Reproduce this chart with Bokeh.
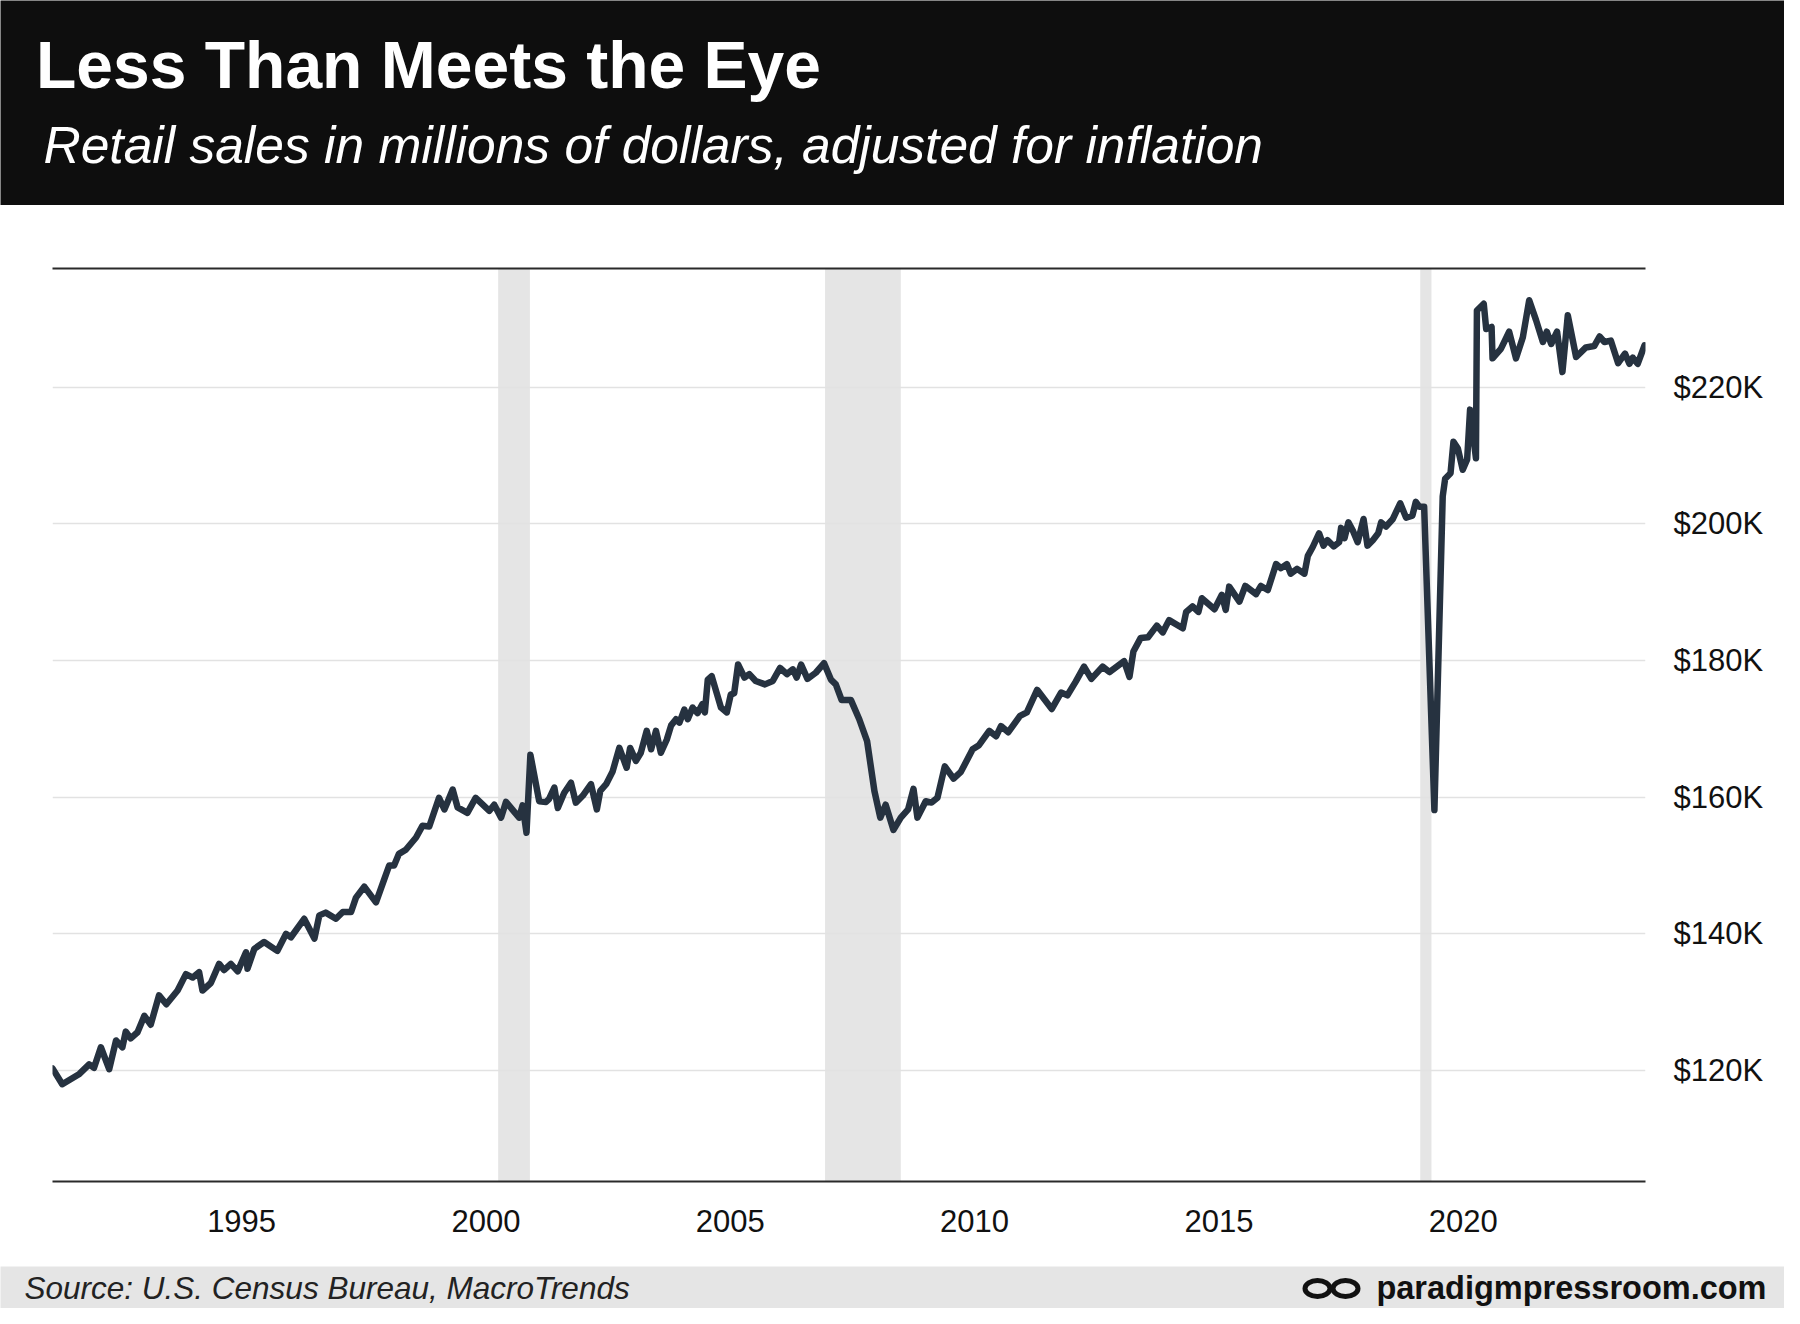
from bokeh.plotting import figure
from bokeh.layouts import column
from bokeh.models import (Range1d, FixedTicker, PrintfTickFormatter, LinearAxis,
                          BoxAnnotation)
from bokeh.embed import file_html
from bokeh.resources import INLINE
from bokeh.core.properties import value

# ---------------- data ----------------
TITLE = "Less Than Meets the Eye"
SUBTITLE = "Retail sales in millions of dollars, adjusted for inflation"
SOURCE = "Source: U.S. Census Bureau, MacroTrends"
BRAND = "paradigmpressroom.com"

# time position (decimal year as drawn) and retail sales in $ thousands of millions
YEARS = [
    1991.13, 1991.33, 1991.68, 1991.88, 1991.98, 1992.12, 1992.29, 1992.43, 1992.56, 1992.63,
    1992.73, 1992.87, 1993.01, 1993.14, 1993.31, 1993.46, 1993.69, 1993.86, 1994.00, 1994.13,
    1994.20, 1994.37, 1994.54, 1994.64, 1994.78, 1994.92, 1995.09, 1995.12, 1995.26, 1995.46,
    1995.73, 1995.91, 1996.01, 1996.28, 1996.49, 1996.59, 1996.72, 1996.93, 1997.07, 1997.24,
    1997.34, 1997.51, 1997.75, 1997.92, 1998.02, 1998.12, 1998.22, 1998.36, 1998.57, 1998.70,
    1998.84, 1999.04, 1999.15, 1999.32, 1999.42, 1999.62, 1999.79, 2000.07, 2000.17, 2000.31,
    2000.41, 2000.68, 2000.75, 2000.83, 2000.91, 2001.09, 2001.23, 2001.29, 2001.40, 2001.47,
    2001.60, 2001.74, 2001.84, 2001.98, 2002.15, 2002.27, 2002.34, 2002.46, 2002.59, 2002.73,
    2002.88, 2002.95, 2003.07, 2003.17, 2003.29, 2003.38, 2003.48, 2003.58, 2003.70, 2003.79,
    2003.89, 2003.96, 2004.06, 2004.13, 2004.23, 2004.33, 2004.43, 2004.48, 2004.54, 2004.62,
    2004.81, 2004.93, 2005.01, 2005.08, 2005.16, 2005.29, 2005.39, 2005.52, 2005.71, 2005.87,
    2006.02, 2006.16, 2006.28, 2006.36, 2006.45, 2006.58, 2006.75, 2006.92, 2007.06, 2007.16,
    2007.28, 2007.47, 2007.64, 2007.80, 2007.95, 2008.07, 2008.18, 2008.34, 2008.49, 2008.64,
    2008.75, 2008.83, 2009.00, 2009.12, 2009.24, 2009.39, 2009.57, 2009.72, 2009.96, 2010.09,
    2010.30, 2010.44, 2010.54, 2010.69, 2010.93, 2011.07, 2011.28, 2011.58, 2011.77, 2011.90,
    2012.07, 2012.24, 2012.39, 2012.62, 2012.76, 2013.06, 2013.17, 2013.25, 2013.40, 2013.55,
    2013.73, 2013.85, 2013.98, 2014.26, 2014.33, 2014.46, 2014.58, 2014.65, 2014.91, 2015.06,
    2015.14, 2015.21, 2015.42, 2015.54, 2015.76, 2015.86, 2016.00, 2016.17, 2016.27, 2016.39,
    2016.47, 2016.60, 2016.75, 2016.82, 2016.92, 2017.05, 2017.14, 2017.22, 2017.35, 2017.46,
    2017.50, 2017.57, 2017.65, 2017.74, 2017.84, 2017.96, 2018.04, 2018.15, 2018.26, 2018.32,
    2018.42, 2018.56, 2018.71, 2018.83, 2018.96, 2019.03, 2019.10, 2019.20, 2019.41, 2019.58,
    2019.63, 2019.74, 2019.80, 2019.89, 2019.99, 2020.08, 2020.14, 2020.26, 2020.28, 2020.42,
    2020.47, 2020.58, 2020.60, 2020.77, 2020.94, 2021.08, 2021.22, 2021.35, 2021.49, 2021.63,
    2021.71, 2021.80, 2021.92, 2022.03, 2022.14, 2022.31, 2022.51, 2022.68, 2022.79, 2022.89,
    2023.02, 2023.17, 2023.31, 2023.40, 2023.47, 2023.57, 2023.71,
]
SALES_K = [
    120.3, 118.0, 119.5, 120.9, 120.4, 123.4, 120.2, 124.4, 123.4, 125.7,
    124.7, 125.6, 128.0, 126.7, 131.0, 129.7, 131.7, 134.1, 133.6, 134.4,
    131.7, 132.8, 135.6, 134.7, 135.6, 134.5, 137.3, 134.9, 137.8, 138.8,
    137.5, 140.0, 139.5, 142.2, 139.3, 142.7, 143.1, 142.2, 143.2, 143.2,
    145.3, 146.9, 144.6, 148.0, 150.0, 150.0, 151.7, 152.3, 154.1, 155.8,
    155.7, 159.9, 158.2, 161.1, 158.5, 157.7, 159.9, 158.0, 158.9, 157.0,
    159.3, 157.0, 158.8, 154.8, 166.2, 159.4, 159.3, 159.7, 161.4, 158.4,
    160.6, 162.1, 159.2, 160.2, 161.9, 158.2, 160.9, 161.9, 163.7, 167.2,
    164.3, 167.2, 165.3, 166.5, 169.7, 167.0, 169.7, 166.5, 168.4, 170.5,
    171.4, 170.9, 172.8, 171.4, 173.1, 172.3, 173.6, 172.4, 177.2, 177.7,
    173.1, 172.4, 175.0, 175.2, 179.4, 177.5, 178.0, 177.0, 176.5, 177.0,
    178.9, 178.0, 178.7, 177.5, 179.4, 177.3, 178.2, 179.6, 177.2, 176.5,
    174.2, 174.2, 171.4, 168.2, 160.9, 157.0, 158.9, 155.2, 157.0, 158.2,
    161.2, 157.0, 159.4, 159.2, 159.9, 164.5, 162.7, 163.7, 167.0, 167.6,
    169.7, 168.9, 170.4, 169.5, 171.9, 172.4, 175.7, 172.9, 175.3, 174.9,
    176.9, 179.1, 177.3, 179.1, 178.3, 179.9, 177.6, 181.3, 183.3, 183.4,
    185.1, 184.1, 185.9, 184.7, 187.1, 187.9, 187.1, 189.1, 187.5, 189.6,
    187.4, 190.8, 188.6, 190.9, 189.7, 190.9, 190.3, 194.1, 193.5, 194.1,
    192.7, 193.4, 192.7, 195.3, 196.6, 198.6, 196.8, 197.6, 196.7, 197.3,
    199.4, 197.9, 200.2, 199.0, 197.3, 200.7, 196.8, 197.6, 198.6, 200.2,
    199.6, 200.7, 203.0, 200.9, 201.2, 203.2, 202.5, 202.5, 158.1, 204.0,
    206.6, 207.4, 212.0, 211.0, 207.9, 209.4, 216.7, 209.6, 231.2, 232.2,
    228.5, 228.8, 224.2, 225.6, 228.1, 224.2, 227.3, 232.7, 229.8, 226.6,
    228.1, 226.3, 228.1, 222.2, 230.5, 224.4, 225.8, 226.0, 227.4, 226.6,
    226.8, 223.5, 224.9, 223.4, 224.3, 223.4, 226.1,
]

# recession shading (as drawn)
REC_START = [2000.25, 2006.94, 2019.12]
REC_END = [2000.90, 2008.49, 2019.35]

X_TICKS = [1995, 2000, 2005, 2010, 2015, 2020]
Y_TICKS = [120, 140, 160, 180, 200, 220]

# ---------------- styling ----------------
W = 1784
TOTAL_H = 1308
HEADER_H = 205
FOOTER_H = 42
CHART_H = TOTAL_H - HEADER_H - FOOTER_H
FONT = "Liberation Sans"
LINE_COLOR = "#263240"
INK = "#111111"
HEADER_BG = "#0e0e0e"
FOOTER_BG = "#e5e5e5"


def blank(height, bg):
    f = figure(width=W, height=height, x_range=Range1d(0, W), y_range=Range1d(0, height),
               output_backend="svg", toolbar_location=None,
               x_axis_type=None, y_axis_type=None, min_border=0)
    f.frame_align = False
    f.background_fill_color = bg
    f.border_fill_color = bg
    f.outline_line_color = None
    return f


# ---------------- header ----------------
header = blank(HEADER_H, HEADER_BG)
header.text(x=[35.5], y=[141], text=[TITLE], text_font=value(FONT),
            text_font_style="bold", text_font_size="66px", text_color="white",
            text_baseline="alphabetic", text_align="left")
header.text(x=[43], y=[61], text=[SUBTITLE], text_font=value(FONT),
            text_font_style="italic", text_font_size="51.5px", text_color="white",
            text_baseline="alphabetic", text_align="left")

# ---------------- chart ----------------
p = figure(width=W, height=CHART_H,
           x_range=Range1d(1991.13, 2023.73), y_range=Range1d(103.76, 237.35),
           output_backend="svg", toolbar_location=None, y_axis_location="right",
           min_border_left=52, min_border_right=139, min_border_top=63,
           min_border_bottom=CHART_H - (1181 - HEADER_H))
p.frame_align = False
p.outline_line_color = None
p.background_fill_color = "white"
p.border_fill_color = "white"
p.xgrid.visible = False
p.ygrid.ticker = FixedTicker(ticks=Y_TICKS)
p.ygrid.grid_line_color = "#e2e2e2"
p.ygrid.grid_line_width = 1.5

for s, e in zip(REC_START, REC_END):
    p.add_layout(BoxAnnotation(left=s, right=e, fill_color="#e5e5e5",
                               fill_alpha=1.0, line_color=None, level="image"))

p.line(YEARS, SALES_K, line_width=6.5, line_color=LINE_COLOR,
       line_join="round", line_cap="round")

ya = p.yaxis[0]
ya.ticker = FixedTicker(ticks=Y_TICKS)
ya.formatter = PrintfTickFormatter(format="$%dK")
ya.axis_line_color = None
ya.major_tick_line_color = None
ya.minor_tick_line_color = None
ya.major_tick_out = 0
ya.major_tick_in = 0
ya.major_label_standoff = 28
ya.major_label_text_font = FONT
ya.major_label_text_font_size = "31px"
ya.major_label_text_color = INK

xa = p.xaxis[0]
xa.ticker = FixedTicker(ticks=X_TICKS)
xa.formatter = PrintfTickFormatter(format="%d")
xa.axis_line_color = "#2a2a2a"
xa.axis_line_width = 2
xa.major_tick_line_color = None
xa.minor_tick_line_color = None
xa.major_label_standoff = 22
xa.major_label_text_font = FONT
xa.major_label_text_font_size = "31px"
xa.major_label_text_color = INK

top = LinearAxis(ticker=FixedTicker(ticks=[]), axis_line_color="#2a2a2a",
                 axis_line_width=2, major_tick_line_color=None,
                 minor_tick_line_color=None, major_label_text_font_size="0px")
p.add_layout(top, "above")

# ---------------- footer ----------------
footer = blank(FOOTER_H, FOOTER_BG)
footer.text(x=[24], y=[20.5], text=[SOURCE], text_font=value(FONT),
            text_font_style="italic", text_font_size="31.5px", text_color="#222222",
            text_baseline="alphabetic", text_align="left")
footer.text(x=[1766], y=[20.5], text=[BRAND], text_font=value(FONT),
            text_font_style="bold", text_font_size="32.5px", text_color=INK,
            text_baseline="alphabetic", text_align="right")
footer.ellipse(x=[1317, 1345], y=[20, 20], width=25, height=16,
               fill_color=None, line_color=INK, line_width=5)

layout = column(header, p, footer, spacing=0)
open("out.html", "w").write(file_html(layout, INLINE))
